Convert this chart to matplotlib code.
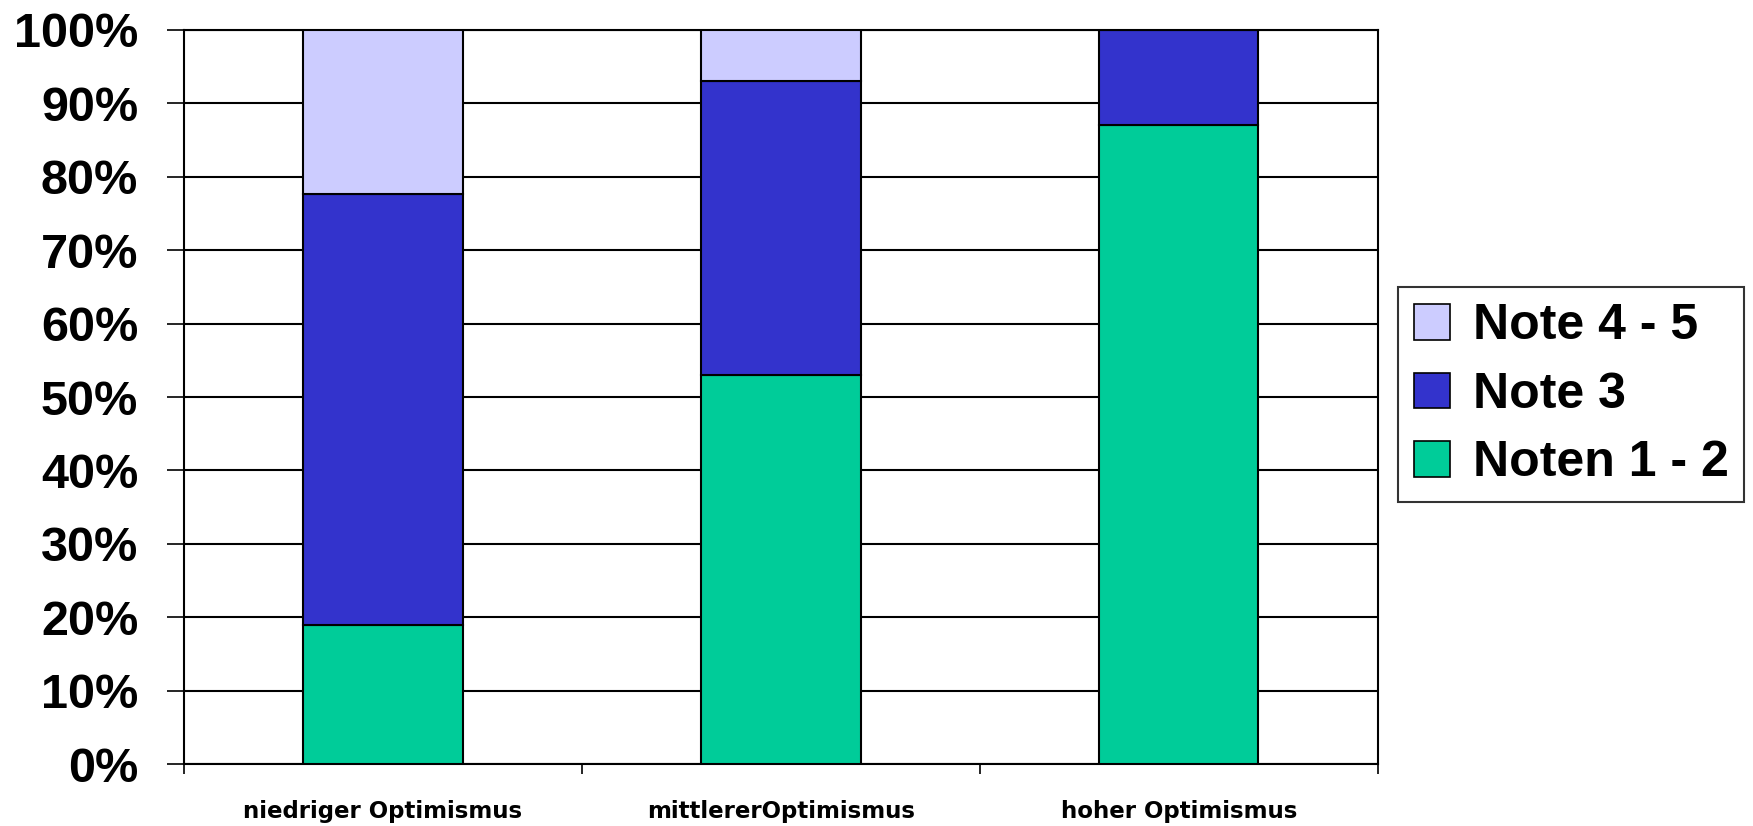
import numpy as np
import matplotlib.pyplot as plt
from matplotlib.patches import Patch

# data (percent)
categories = ["niedriger Optimismus", "mittlererOptimismus", "hoher Optimismus"]
noten_1_2 = [19, 53, 87]
note_3 = [58.7, 40, 13]
note_4_5 = [22.3, 7, 0]

series_names = ["Noten 1 - 2", "Note 3", "Note 4 - 5"]
colors = ["#00CC99", "#3333CC", "#CCCCFF"]

fig = plt.figure(figsize=(17.53, 8.26), dpi=100)
ax = fig.add_axes([0.105, 0.075, 0.681, 0.8887])

x = np.arange(len(categories))
bottom = np.zeros(len(categories))
for vals, col in zip([noten_1_2, note_3, note_4_5], colors):
    vals = np.array(vals, dtype=float)
    ax.bar(x, vals, 0.4, bottom=bottom, color=col, edgecolor="black",
           linewidth=1.5, zorder=3)
    bottom += vals

ax.set_xlim(-0.5, len(categories) - 0.5)
ax.set_ylim(0, 100)
ax.set_axisbelow(True)
ax.yaxis.grid(True, color="black", linewidth=1.5, zorder=0)

ax.set_yticks(np.arange(0, 101, 10))
ax.set_yticklabels(["{}%".format(v) for v in range(0, 101, 10)],
                   fontfamily="Liberation Sans", fontweight="bold", fontsize=35)
ax.tick_params(axis="y", length=12, width=1.2, pad=21, direction="out")

ax.set_xticks(x)
ax.set_xticklabels(categories, fontfamily="DejaVu Sans", fontweight="bold",
                   fontsize=16.5)
ax.tick_params(axis="x", which="major", length=0, pad=26)
ax.set_xticks(np.arange(-0.5, len(categories)), minor=True)
ax.tick_params(axis="x", which="minor", length=7, width=1.2, direction="out")

for sp in ax.spines.values():
    sp.set_linewidth(1.5)
    sp.set_color("black")

handles = [Patch(facecolor=c, edgecolor="black", linewidth=1.2, label=n)
           for n, c in zip(series_names, colors)][::-1]
leg = fig.legend(handles=handles, loc="upper left",
                 bbox_to_anchor=(0.7975, 0.652),
                 prop={"family": "Liberation Sans", "weight": "bold", "size": 36},
                 frameon=True, fancybox=False, edgecolor="black",
                 handlelength=0.72, handleheight=0.72, handletextpad=0.45,
                 labelspacing=0.45, borderpad=0.32, borderaxespad=0)
leg.get_frame().set_linewidth(1.5)

plt.savefig("out.png", dpi=100)
